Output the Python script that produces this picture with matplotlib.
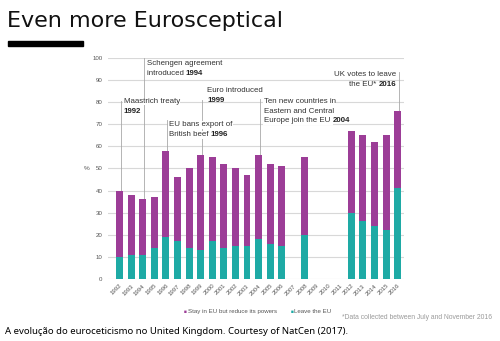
import matplotlib
matplotlib.use("Agg")
import matplotlib.pyplot as plt
from matplotlib.patches import Rectangle

# British Social Attitudes: views on EU membership, %
years = ["1992", "1993", "1994", "1995", "1996", "1997", "1998", "1999", "2000",
         "2001", "2002", "2003", "2004", "2005", "2006", "2007", "2008", "2009",
         "2010", "2011", "2012", "2013", "2014", "2015", "2016"]
leave = [10, 11, 11, 14, 19, 17, 14, 13, 17, 14, 15, 15, 18, 16, 15,
         None, 20, None, None, None, 30, 26, 24, 22, 41]
total = [40, 38, 36, 37, 58, 46, 50, 56, 55, 52, 50, 47, 56, 52, 51,
         None, 55, None, None, None, 67, 65, 62, 65, 76]
reduce_powers = [t - l if t is not None else None for t, l in zip(total, leave)]

purple = "#9c3d97"
teal = "#1eaaa5"
grey_txt = "#555555"

plt.rcParams['font.family'] = ['Liberation Sans', 'DejaVu Sans']

fig = plt.figure(figsize=(5.0, 3.41), dpi=100)
ax = fig.add_axes([0.216, 0.182, 0.592, 0.648])

xs = [i for i, v in enumerate(leave) if v is not None]
lv = [leave[i] for i in xs]
rp = [reduce_powers[i] for i in xs]
ax.bar(xs, lv, width=0.6, color=teal, zorder=3)
ax.bar(xs, rp, width=0.6, bottom=lv, color=purple, zorder=3)

ax.set_xlim(-1.0, 24.55)
ax.set_ylim(0, 100)
ax.set_yticks(range(0, 101, 10))
ax.set_xticks(range(len(years)))
ax.set_xticklabels(years, rotation=45, ha='right', rotation_mode='anchor')
ax.tick_params(axis='both', labelsize=4.4, labelcolor=grey_txt, length=0)
ax.tick_params(axis='y', pad=4)
ax.tick_params(axis='x', pad=3)
ax.grid(axis='y', color='#d8d8d8', linewidth=0.8, zorder=0)
for s in ax.spines.values():
    s.set_visible(False)
ax.set_ylabel("%", fontsize=4.6, color=grey_txt, rotation=0, labelpad=4, va='center')

# event markers: (bar index, line top, text x, text y, lines, bold year)
events = [
    (0, 80.5, 0.35, 80.3, ["Maastrich treaty", ""], "1992"),
    (2, 100, 2.33, 97.3, ["Schengen agreement", "introduced "], "1994"),
    (4, 72, 4.25, 69.7, ["EU bans export of", "British beef "], "1996"),
    (7, 81, 7.56, 85.3, ["Euro introduced", ""], "1999"),
    (12, 81.5, 12.44, 80.3, ["Ten new countries in", "Eastern and Central",
                             "Europe join the EU "], "2004"),
]
line_h = 4.4
ann_size = 5.7
for idx, top, tx, ty, lines, yr in events:
    ax.plot([idx + 0.1, idx + 0.1], [total[idx], top], color='#a8a8a8',
            linewidth=0.6, zorder=2)
    for k, s in enumerate(lines):
        y = ty - k * line_h
        t = ax.text(tx, y, s, fontsize=ann_size, color='#333333', va='center',
                    ha='left', zorder=4, bbox=dict(fc='white', ec='none', pad=0.3)
                    if s else None)
        if k == len(lines) - 1:
            ax.annotate(yr, xy=(1, 0.5), xycoords=t, fontsize=ann_size,
                        fontweight='bold', color='#222222', va='center', ha='left',
                        zorder=4)

# 2016 referendum, text right-aligned left of the line
ax.plot([24.1, 24.1], [total[24], 93.5], color='#a8a8a8', linewidth=0.6, zorder=2)
ax.text(23.85, 92.3, "UK votes to leave", fontsize=ann_size, color='#333333',
        va='center', ha='right', zorder=4)
b = ax.text(23.85, 87.9, "2016", fontsize=ann_size, fontweight='bold',
            color='#222222', va='center', ha='right', zorder=4)
ax.annotate("the EU* ", xy=(0, 0.5), xycoords=b, fontsize=ann_size,
            color='#333333', va='center', ha='right', zorder=4)

# legend
fig.text(0.368, 0.086, "\u25a0", fontsize=3.4, color=purple, va='center')
fig.text(0.375, 0.086, "Stay in EU but reduce its powers", fontsize=4.4,
         color=grey_txt, va='center')
fig.text(0.582, 0.086, "\u25a0", fontsize=3.4, color=teal, va='center')
fig.text(0.589, 0.086, "Leave the EU", fontsize=4.4, color=grey_txt, va='center')
fig.text(0.985, 0.068, "*Data collected between July and November 2016",
         fontsize=4.9, color='#9a9a9a', va='center', ha='right')

# heading
fig.text(0.014, 0.937, "Even more Eurosceptical", fontsize=16, color='#111111',
         family=['DejaVu Sans'], va='center', ha='left')
fig.patches.append(Rectangle((0.016, 0.865), 0.150, 0.015,
                             transform=fig.transFigure, color='black'))

fig.text(0.010, 0.027, "A evolução do euroceticismo no United Kingdom. "
         "Courtesy of NatCen (2017).", fontsize=6.9, color='black',
         family=['Noto Sans', 'DejaVu Sans'], va='center', ha='left')

fig.savefig("out.png", dpi=100)
